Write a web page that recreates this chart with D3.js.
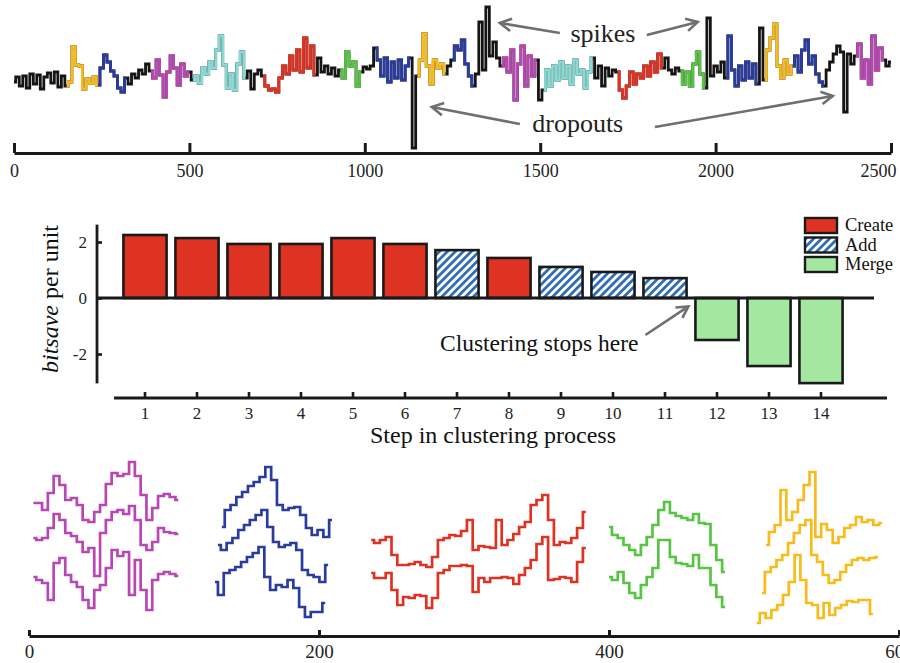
<!DOCTYPE html>
<html>
<head>
<meta charset="utf-8">
<script src="https://cdn.jsdelivr.net/npm/d3@7"></script>
<style>
  html, body { margin: 0; padding: 0; background: #fff; }
  svg { display: block; font-family: "Liberation Serif", "Times New Roman", serif; }
</style>
</head>
<body>
<div id="chart"></div>
<script>
// ---- top: full time series, one value every 10 samples ----
const seriesStep = 10;
const series = [
  -0.2, 0.3, -0.6, 0.4, -0.8, 0.6, -0.4, 0.5, -0.9, 0.3,
  0.7, -0.3, 0.8, -0.7, 0.4, -0.6, -0.2, 3.3, 1.5, 1.4,
  -0.9, 0.1, -0.3, 0.3, -0.5, 1.2, 2.5, 1.8, 0.9, 0.4,
  -0.8, -1.2, 0.2, -0.4, 0.6, 0.2, 1.0, 0.6, 1.6, 0.9,
  0.2, 2.0, 0.5, -1.7, 0.8, 2.4, 1.2, -0.5, 1.6, 0.4,
  0.8, 0.0, 0.4, -0.3, 1.2, 0.6, 1.8, 1.2, 3.0, 4.4,
  1.5, -0.8, 0.6, -1.0, 1.6, 2.8, 0.2, 0.9, -0.9, 0.6,
  1.0, 0.4, -0.6, -1.0, -0.9, -1.2, 0.2, 1.4, 0.6, 2.4,
  1.0, 3.0, 0.8, 4.2, 1.2, 3.4, 0.5, 2.2, 0.8, 1.4,
  0.6, 1.2, 0.4, 1.0, 0.2, 2.8, 1.4, 1.8, -0.6, 0.8,
  1.3, 1.1, 1.4, 3.2, 2.0, 0.4, 2.2, -0.2, 1.8, 0.2,
  2.0, 0.0, 1.4, 2.2, -6.8, 0.4, 2.0, 4.6, 1.4, -0.4,
  2.0, 1.2, 1.6, 0.6, 1.4, 2.0, 3.4, 3.0, 4.0, 1.6,
  0.4, -0.6, 0.6, 5.8, 1.0, 7.3, 2.4, 3.8, 2.2, 1.4,
  2.2, 0.8, 3.0, -2.0, 1.6, 3.4, -0.6, 2.4, 0.4, 2.0,
  -2.0, -1.0, 1.0, -0.6, 1.4, 0.0, 1.8, 0.2, 1.4, -0.4,
  2.0, 0.6, 1.0, -0.8, 0.8, 2.2, 0.2, 1.4, -0.6, 1.2,
  0.4, 1.0, 0.8, -1.0, -1.8, -0.6, 0.8, -0.4, 0.6, 0.2,
  1.4, 0.4, 1.8, 0.8, 2.6, 1.2, 2.2, 1.0, 0.6, 1.2,
  0.9, -0.4, 0.8, -0.6, 1.6, 2.8, 0.6, -0.8, 6.2, 0.4,
  1.4, 0.8, 1.8, 0.2, 4.4, 1.0, -0.6, 1.4, 0.0, 1.8,
  0.2, 1.6, -0.4, 5.2, 0.0, 3.0, 4.2, 5.6, 1.4, 0.2,
  2.0, 0.6, 1.4, 2.4, 0.8, 3.0, 4.0, 1.6, 2.4, 0.6,
  -0.2, -0.6, 1.0, 1.8, 2.6, 3.4, 2.8, -3.2, 2.6, 1.6,
  2.4, 3.6, 0.2, 2.0, -0.4, 4.4, 1.0, 3.2, 2.0, 1.4,
  1.8
];
// coloured motif occurrences (sample ranges)
const segStart = [150, 240, 390, 510, 710, 930, 1030, 1150, 1250, 1390, 1510, 1720, 1900, 2030, 2140, 2220, 2400];
const segEnd   = [240, 320, 500, 660, 860, 990, 1130, 1230, 1310, 1490, 1650, 1850, 1970, 2120, 2220, 2310, 2480];
const segColor = ['yellow', 'blue', 'magenta', 'cyan', 'red', 'green', 'blue', 'yellow', 'blue', 'magenta',
                  'cyan', 'red', 'green', 'blue', 'yellow', 'blue', 'magenta'];
const topTicks = [0, 500, 1000, 1500, 2000, 2500];

// ---- middle: bitsave per step ----
const steps = [1, 2, 3, 4, 5, 6, 7, 8, 9, 10, 11, 12, 13, 14];
const bitsave = [2.25, 2.14, 1.93, 1.93, 2.14, 1.93, 1.71, 1.43, 1.11, 0.93, 0.71, -1.5, -2.43, -3.04];
const stepType = ['Create', 'Create', 'Create', 'Create', 'Create', 'Create', 'Add', 'Create',
                  'Add', 'Add', 'Add', 'Merge', 'Merge', 'Merge'];
const barTicks = [-2, 0, 2];
const legendItems = ['Create', 'Add', 'Merge'];

// ---- bottom: the motifs found ----
const motifStep = 4;
const magenta1 = [133, 133, 126, 143, 160, 151, 136, 138, 131, 116, 114, 124, 131, 152, 163, 160, 162, 174, 160, 141, 116, 128, 140, 142, 139, 136];
const magenta2 = [98, 96, 98, 108, 122, 116, 103, 100, 94, 84, 88, 60, 103, 116, 124, 126, 122, 130, 116, 91, 86, 94, 108, 104, 103, 102];
const magenta3 = [59, 56, 53, 36, 73, 78, 61, 54, 49, 36, 28, 46, 51, 68, 86, 80, 84, 41, 76, 46, 26, 56, 62, 64, 62, 60];
const blue1 = [109, 126, 131, 139, 144, 150, 154, 159, 169, 156, 131, 126, 128, 129, 121, 108, 101, 106, 99, 116];
const blue2 = [91, 86, 93, 98, 106, 111, 116, 121, 126, 109, 94, 89, 91, 93, 86, 66, 61, 59, 54, 71];
const blue3 = [54, 41, 63, 66, 69, 74, 79, 83, 89, 59, 46, 51, 49, 56, 48, 29, 19, 24, 24, 33];
const red1 = [96, 93, 96, 99, 81, 71, 71, 72, 74, 71, 69, 79, 96, 98, 101, 100, 105, 116, 86, 90,
              89, 88, 116, 91, 96, 102, 109, 114, 131, 136, 141, 116, 91, 94, 93, 98, 108, 124];
const red2 = [63, 58, 58, 63, 46, 31, 39, 38, 41, 40, 28, 38, 63, 66, 70, 70, 71, 70, 44, 58,
              54, 58, 58, 59, 58, 52, 61, 68, 76, 92, 99, 56, 57, 59, 58, 54, 74, 88];
const green1 = [109, 101, 98, 91, 86, 81, 91, 99, 111, 126, 134, 123, 120, 118, 116, 122, 113, 112, 91, 76, 64];
const green2 = [59, 56, 64, 53, 43, 38, 51, 59, 68, 96, 96, 79, 73, 72, 70, 81, 68, 68, 51, 39, 29];
const yellow1 = [91, 104, 111, 146, 116, 124, 136, 151, 164, 99, 112, 106, 93, 99, 108, 111, 119, 114, 116, 111, 113];
const yellow2 = [43, 64, 69, 76, 81, 93, 103, 111, 116, 81, 74, 61, 53, 56, 64, 71, 76, 78, 76, 78, 79];
const yellow3 = [13, 23, 18, 26, 31, 41, 54, 81, 56, 33, 31, 18, 33, 21, 28, 31, 35, 34, 36, 36, 22];
const motifValues = [magenta1, magenta2, magenta3, blue1, blue2, blue3, red1, red2, green1, green2, yellow1, yellow2, yellow3];
const motifStart  = [3, 3, 3, 133, 130.3, 128.3, 236, 236, 400, 400, 508.3, 505.5, 502];
const motifColor  = ['magenta', 'magenta', 'magenta', 'blue', 'blue', 'blue', 'red', 'red', 'green', 'green', 'yellow', 'yellow', 'yellow'];
const bottomTicks = [0, 200, 400, 600];

const palette = {
  black: '#151515', yellow: '#f9bb1a', blue: '#2b3c9f', magenta: '#b947b3',
  cyan: '#86dcd5', red: '#e03223', green: '#58c443'
};
const typeFill = { Create: '#de3223', Add: 'url(#hatch)', Merge: '#a3e7a0' };
const ink = '#1a1a1a';
const arrowGray = '#6f6f6f';

const width = 900, height = 663;
const svg = d3.select('#chart').append('svg')
  .attr('width', width).attr('height', height);

const defs = svg.append('defs');
const hatch = defs.append('pattern')
  .attr('id', 'hatch')
  .attr('patternUnits', 'userSpaceOnUse')
  .attr('width', 5.6).attr('height', 5.6)
  .attr('patternTransform', 'rotate(45)');
hatch.append('rect').attr('width', 5.6).attr('height', 5.6).attr('fill', '#fff');
hatch.append('rect').attr('width', 2.8).attr('height', 5.6).attr('fill', '#2f6db6');

function arrow(g, x1, y1, x2, y2) {
  const a = Math.atan2(y2 - y1, x2 - x1);
  const L = 13, sp = 0.5;
  g.append('line')
    .attr('x1', x1).attr('y1', y1).attr('x2', x2).attr('y2', y2)
    .attr('stroke', arrowGray).attr('stroke-width', 2.6);
  g.append('path')
    .attr('d', `M${x2 - L * Math.cos(a - sp)},${y2 - L * Math.sin(a - sp)}L${x2},${y2}L${x2 - L * Math.cos(a + sp)},${y2 - L * Math.sin(a + sp)}`)
    .attr('fill', 'none').attr('stroke', arrowGray).attr('stroke-width', 2.6)
    .attr('stroke-linejoin', 'miter');
}

// ================= top panel =================
const xTop = d3.scaleLinear().domain([0, 2500]).range([14, 891]);
const yTop = d3.scaleLinear().domain([-8, 8]).range([160, 0]);
const pts = series.map((v, i) => [i * seriesStep, v]);
const lineTop = d3.line()
  .x(d => xTop(d[0])).y(d => yTop(d[1]))
  .curve(d3.curveStep);

const topG = svg.append('g');
topG.append('path').datum(pts)
  .attr('d', lineTop)
  .attr('fill', 'none').attr('stroke', palette.black).attr('stroke-width', 2.8);

segStart.forEach((s, i) => {
  topG.append('path')
    .datum(pts.filter(p => p[0] >= s && p[0] <= segEnd[i]))
    .attr('d', lineTop)
    .attr('fill', 'none').attr('stroke', palette[segColor[i]]).attr('stroke-width', 2.8);
});

const topAxis = topG.append('g')
  .attr('transform', 'translate(0,153)')
  .call(d3.axisBottom(xTop).tickValues(topTicks).tickFormat(d3.format('d'))
    .tickSizeInner(-10).tickSizeOuter(0).tickPadding(11));
topAxis.select('.domain').attr('stroke', ink).attr('stroke-width', 3);
topAxis.selectAll('.tick line').attr('stroke', ink).attr('stroke-width', 3);
topAxis.selectAll('.tick text').attr('font-size', 18).attr('fill', '#222')
  .attr('font-family', '"Liberation Serif", serif');
// last label sits inside the page, as in the original
topAxis.selectAll('.tick text').filter(d => d === 2500)
  .attr('text-anchor', 'end').attr('x', 5);

// annotations
topG.append('text').attr('x', xTop(1679)).attr('y', yTop(3.8))
  .attr('text-anchor', 'middle').attr('font-size', 26).attr('fill', '#222').text('spikes');
arrow(topG, xTop(1556), yTop(4.7), xTop(1385), yTop(5.7));
arrow(topG, xTop(1804), yTop(4.5), xTop(1949), yTop(5.8));
topG.append('text').attr('x', xTop(1607)).attr('y', yTop(-5.2))
  .attr('text-anchor', 'middle').attr('font-size', 26).attr('fill', '#222').text('dropouts');
arrow(topG, xTop(1442), yTop(-4.4), xTop(1191), yTop(-2.7));
arrow(topG, xTop(1827), yTop(-4.7), xTop(2334), yTop(-1.6));

// ================= middle panel =================
const mid = svg.append('g');
const xBar = d3.scaleBand().domain(steps).range([119, 847]).paddingInner(0.17).paddingOuter(0.085);
const yBar = d3.scaleLinear().domain([-3, 2.5]).range([382, 228]);

mid.selectAll('rect.bar')
  .data(steps)
  .enter()
  .append('rect')
  .attr('class', 'bar')
  .attr('x', d => xBar(d))
  .attr('width', xBar.bandwidth())
  .attr('y', (d, i) => yBar(Math.max(bitsave[i], 0)))
  .attr('height', (d, i) => Math.abs(yBar(bitsave[i]) - yBar(0)))
  .attr('fill', (d, i) => typeFill[stepType[i]])
  .attr('stroke', ink).attr('stroke-width', 2.6);

// zero line
mid.append('line')
  .attr('x1', 97).attr('x2', 874)
  .attr('y1', yBar(0)).attr('y2', yBar(0))
  .attr('stroke', ink).attr('stroke-width', 2.8);

// y axis
mid.append('line')
  .attr('x1', 97).attr('x2', 97)
  .attr('y1', yBar(2.62)).attr('y2', yBar(-3.05))
  .attr('stroke', ink).attr('stroke-width', 2.8);
const yAx = mid.append('g').attr('transform', 'translate(97,0)')
  .call(d3.axisLeft(yBar).tickValues(barTicks).tickFormat(d => String(d))
    .tickSizeInner(-5).tickSizeOuter(0).tickPadding(10));
yAx.select('.domain').remove();
yAx.selectAll('.tick line').attr('stroke', ink).attr('stroke-width', 2.6);
yAx.selectAll('.tick text').attr('font-size', 17).attr('fill', '#222')
  .attr('font-family', '"Liberation Serif", serif');

// x axis
mid.append('line')
  .attr('x1', 114).attr('x2', 887)
  .attr('y1', 398).attr('y2', 398)
  .attr('stroke', ink).attr('stroke-width', 2.8);
const xAx = mid.append('g').attr('transform', 'translate(0,398)')
  .call(d3.axisBottom(xBar).tickSizeInner(-6).tickSizeOuter(0).tickPadding(9));
xAx.select('.domain').remove();
xAx.selectAll('.tick line').attr('stroke', ink).attr('stroke-width', 2.6);
xAx.selectAll('.tick text').attr('font-size', 17).attr('fill', '#222')
  .attr('font-family', '"Liberation Serif", serif');

mid.append('text')
  .attr('x', 493).attr('y', 443)
  .attr('text-anchor', 'middle').attr('font-size', 24).attr('fill', '#111')
  .text('Step in clustering process');

const yTitle = mid.append('text')
  .attr('transform', 'translate(58,299) rotate(-90)')
  .attr('text-anchor', 'middle').attr('font-size', 24).attr('fill', '#111');
yTitle.append('tspan').attr('font-style', 'italic').text('bitsave');
yTitle.append('tspan').text(' per unit');

// annotation
mid.append('text')
  .attr('x', xBar(12) - 57).attr('y', yBar(-1.88))
  .attr('text-anchor', 'end').attr('font-size', 23.5).attr('fill', '#111')
  .text('Clustering stops here');
arrow(mid, xBar(12) - 50, yBar(-1.32), xBar(12) - 7, yBar(-0.3));

// legend
const leg = mid.append('g').attr('transform', 'translate(805,218)');
legendItems.forEach((name, i) => {
  const row = leg.append('g').attr('transform', `translate(0,${i * 19.5})`);
  row.append('rect').attr('width', 32).attr('height', 15)
    .attr('fill', typeFill[name]).attr('stroke', ink).attr('stroke-width', 2.4);
  row.append('text').attr('x', 40).attr('y', 13).attr('font-size', 18.5).attr('fill', '#111').text(name);
});

// ================= bottom panel =================
const bot = svg.append('g');
const xBot = d3.scaleLinear().domain([0, 600]).range([29, 899]);
const yBot = d3.scaleLinear().domain([0, 180]).range([636, 456]);
const lineBot = d3.line()
  .x(d => xBot(d[0])).y(d => yBot(d[1]))
  .curve(d3.curveStep);

motifValues.forEach((vals, j) => {
  const data = vals.map((v, i) => [motifStart[j] + i * motifStep, v]);
  bot.append('path').datum(data)
    .attr('d', lineBot)
    .attr('fill', 'none').attr('stroke', palette[motifColor[j]])
    .attr('stroke-width', 2.7);
});

const botAxis = bot.append('g')
  .attr('transform', 'translate(0,636)')
  .call(d3.axisBottom(xBot).tickValues(bottomTicks).tickSizeInner(-6).tickSizeOuter(0).tickPadding(9));
botAxis.select('.domain').attr('stroke', ink).attr('stroke-width', 3);
botAxis.selectAll('.tick line').attr('stroke', ink).attr('stroke-width', 3);
botAxis.selectAll('.tick text').attr('font-size', 19).attr('fill', '#222')
  .attr('font-family', '"Liberation Serif", serif');
</script>
</body>
</html>
